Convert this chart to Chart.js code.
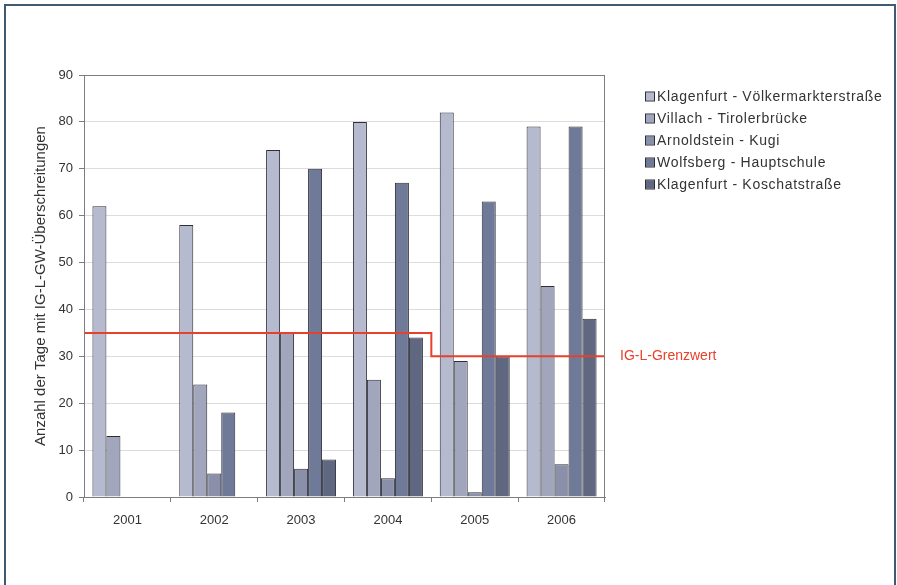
<!DOCTYPE html>
<html lang="de">
<head>
<meta charset="UTF-8">
<title>IG-L-GW-Überschreitungen</title>
<script src="https://cdn.jsdelivr.net/npm/chart.js"></script>
<style>
    body { margin: 0; background: #ffffff; }
    .frame {
        position: absolute;
        left: 4px; top: 4px;
        width: 892px; height: 620px;
        border: 2px solid #3f5b74;
        box-sizing: border-box;
    }
    #wrap { position: absolute; left: 0; top: 0; width: 897px; height: 585px; }
</style>
</head>
<body>
<div class="frame"></div>
<div id="wrap"><canvas id="chart" width="897" height="585"></canvas></div>

<script>
    // Jahre und Messstellen
    const years = ['2001', '2002', '2003', '2004', '2005', '2006'];
    const stations = [
        'Klagenfurt - Völkermarkterstraße',
        'Villach - Tirolerbrücke',
        'Arnoldstein - Kugi',
        'Wolfsberg - Hauptschule',
        'Klagenfurt - Koschatstraße'
    ];

    // Anzahl der Tage mit Überschreitungen je Station
    const voelkermarkter = [62, 58, 74, 80, 82, 79];
    const tirolerbruecke = [13, 24, 35, 25, 29, 45];
    const kugi           = [null, 5, 6, 4, 1, 7];
    const hauptschule    = [null, 18, 70, 67, 63, 79];
    const koschat        = [null, null, 8, 34, 30, 38];

    // Grenzwert: Kategorie-Index (-0.5 = linker Rand, 3.5 = zwischen 2004 und 2005)
    const limitLabel = 'IG-L-Grenzwert';
    const limitX = [-0.5, 3.5, 3.5, 5.5];
    const limitY = [35, 35, 30, 30];

    const yTicks = [0, 10, 20, 30, 40, 50, 60, 70, 80, 90];

    const barColors = ['#b5bace', '#a1a6bd', '#8b90aa', '#6f7a98', '#5f6781'];
    const seriesValues = [voelkermarkter, tirolerbruecke, kugi, hauptschule, koschat];

    const font = '"Liberation Sans", Arial, sans-serif';

    const barSets = stations.map((name, i) => ({
        label: name,
        data: seriesValues[i],
        backgroundColor: barColors[i],
        borderColor: '#2e2e36',
        borderWidth: 1,
        categoryPercentage: 0.806,
        barPercentage: 1,
        order: 1
    }));

    const limitSet = {
        type: 'line',
        label: limitLabel,
        parsing: false,
        data: limitX.map((x, i) => ({ x: x, y: limitY[i] })),
        borderColor: '#e8402a',
        borderWidth: 2,
        pointRadius: 0,
        fill: false,
        tension: 0,
        order: 0
    };

    // Rahmen um die Zeichenfläche, Legende und Grenzwert-Text
    const extras = {
        id: 'extras',
        afterDraw(chart) {
            const c = chart.ctx;
            const a = chart.chartArea;
            c.save();
            c.strokeStyle = '#7d7d7d';
            c.lineWidth = 1;
            c.strokeRect(a.left + 0.5, a.top + 0.5, a.right - a.left - 1, a.bottom - a.top);

            // Grenzwert-Beschriftung
            const yPix = chart.scales.y.getPixelForValue(limitY[limitY.length - 1]);
            c.fillStyle = '#e8402a';
            c.font = '14px ' + font;
            c.textBaseline = 'middle';
            c.textAlign = 'left';
            c.fillText(limitLabel, 620, yPix);

            // Legende
            c.font = '14px ' + font;
            c.letterSpacing = '0.7px';
            stations.forEach((name, i) => {
                const y = 97 + i * 22;
                c.fillStyle = barColors[i];
                c.fillRect(646, y - 4.5, 8, 8);
                c.strokeStyle = '#2e2e36';
                c.strokeRect(645.5, y - 5, 9, 9);
                c.fillStyle = '#333333';
                c.fillText(name, 657, y);
            });
            c.restore();
        }
    };

    new Chart(document.getElementById('chart'), {
        type: 'bar',
        data: {
            labels: years,
            datasets: [...barSets, limitSet]
        },
        options: {
            responsive: false,
            animation: false,
            layout: { padding: { left: 0, right: 292, top: 75, bottom: 44 } },
            scales: {
                x: {
                    offset: true,
                    grid: {
                        offset: true,
                        drawOnChartArea: false,
                        tickLength: 5,
                        tickColor: '#7d7d7d'
                    },
                    border: { color: '#7d7d7d' },
                    ticks: { color: '#333333', font: { family: font, size: 13 }, padding: 11 },
                    afterFit(s) { s.height = 44; }
                },
                y: {
                    min: 0,
                    max: 90,
                    afterBuildTicks(s) { s.ticks = yTicks.map(v => ({ value: v })); },
                    grid: { color: '#dcdcdc', tickLength: 5, tickColor: '#7d7d7d' },
                    border: { color: '#7d7d7d' },
                    ticks: { color: '#333333', font: { family: font, size: 13 }, padding: 6 },
                    title: {
                        display: true,
                        text: 'Anzahl der Tage mit IG-L-GW-Überschreitungen',
                        color: '#333333',
                        font: { family: font, size: 15 },
                        padding: { top: 32, bottom: 0 }
                    },
                    afterFit(s) { s.width = 84; }
                }
            },
            plugins: {
                legend: { display: false },
                tooltip: { enabled: false }
            }
        },
        plugins: [extras]
    });
</script>
</body>
</html>
